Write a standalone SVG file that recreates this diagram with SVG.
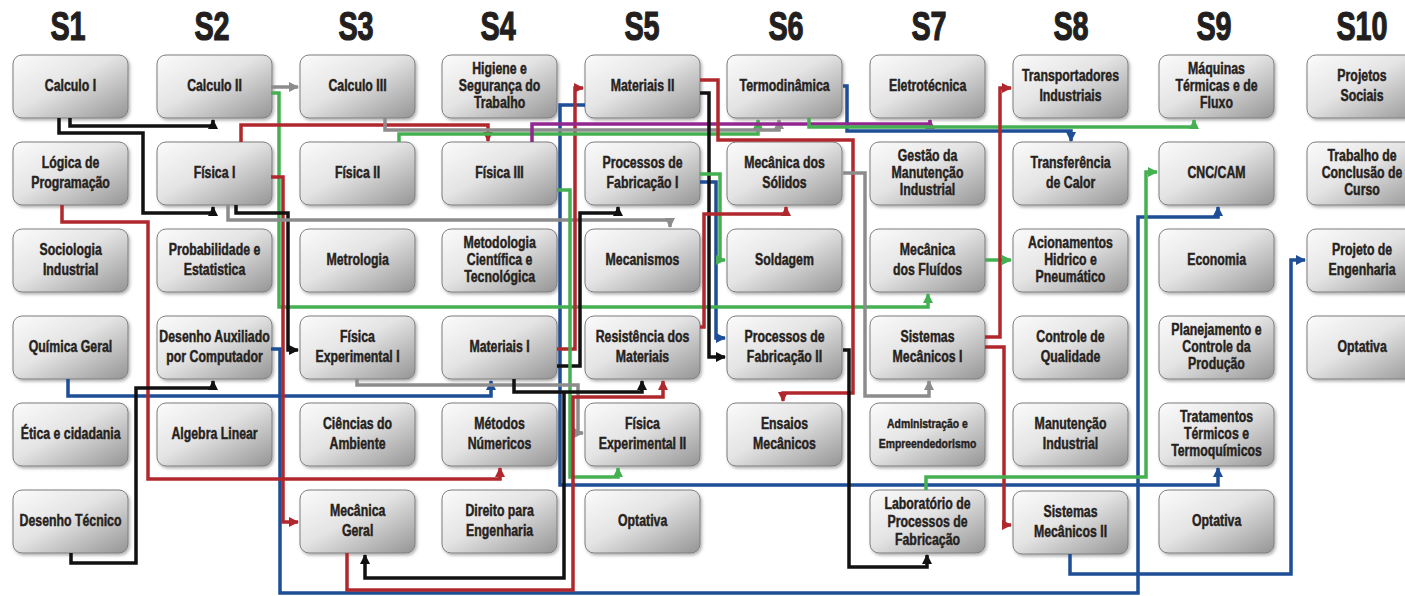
<svg xmlns="http://www.w3.org/2000/svg" width="1405" height="596" viewBox="0 0 1405 596">
<defs>
<linearGradient id="gbox" x1="0" y1="0" x2="1" y2="1">
<stop offset="0" stop-color="#fbfbfb"/>
<stop offset="0.45" stop-color="#e4e4e4"/>
<stop offset="1" stop-color="#959595"/>
</linearGradient>
<filter id="sh" x="-10%" y="-10%" width="125%" height="130%">
<feDropShadow dx="1.5" dy="2" stdDeviation="1.5" flood-color="#000" flood-opacity="0.3"/>
</filter>
<marker id="ak" viewBox="0 0 10 10" refX="9" refY="5" markerWidth="10" markerHeight="10" markerUnits="userSpaceOnUse" orient="auto"><path d="M0,0 L10,5 L0,10 z" fill="#111"/></marker>
<marker id="ar" viewBox="0 0 10 10" refX="9" refY="5" markerWidth="10" markerHeight="10" markerUnits="userSpaceOnUse" orient="auto"><path d="M0,0 L10,5 L0,10 z" fill="#b0282d"/></marker>
<marker id="ag" viewBox="0 0 10 10" refX="9" refY="5" markerWidth="10" markerHeight="10" markerUnits="userSpaceOnUse" orient="auto"><path d="M0,0 L10,5 L0,10 z" fill="#45b052"/></marker>
<marker id="ab" viewBox="0 0 10 10" refX="9" refY="5" markerWidth="10" markerHeight="10" markerUnits="userSpaceOnUse" orient="auto"><path d="M0,0 L10,5 L0,10 z" fill="#1d4e96"/></marker>
<marker id="ay" viewBox="0 0 10 10" refX="9" refY="5" markerWidth="10" markerHeight="10" markerUnits="userSpaceOnUse" orient="auto"><path d="M0,0 L10,5 L0,10 z" fill="#8c8c8c"/></marker>
<marker id="ap" viewBox="0 0 10 10" refX="9" refY="5" markerWidth="10" markerHeight="10" markerUnits="userSpaceOnUse" orient="auto"><path d="M0,0 L10,5 L0,10 z" fill="#92278f"/></marker>
</defs>
<style>
.hd{font-family:"Liberation Sans",Arial,sans-serif;font-weight:bold;font-size:40px;fill:#231f20;stroke:#231f20;stroke-width:1.2;text-anchor:middle;transform:scaleX(0.72);transform-box:fill-box;transform-origin:center}
.bx{fill:url(#gbox);stroke:#7d7d7d;stroke-width:1;filter:url(#sh)}
.lb{font-family:"Liberation Sans",Arial,sans-serif;font-weight:bold;font-size:16px;fill:#262220;stroke:#262220;stroke-width:0.45;text-anchor:middle;transform:scaleX(0.77);transform-box:fill-box;transform-origin:center}
.sm{font-size:13.5px}
.c{fill:none;stroke-width:3.5;stroke-linejoin:miter}
.k{stroke:#111;marker-end:url(#ak)}
.r{stroke:#b0282d;marker-end:url(#ar)}
.g{stroke:#45b052;marker-end:url(#ag)}
.b{stroke:#1d4e96;marker-end:url(#ab)}
.y{stroke:#8c8c8c;marker-end:url(#ay)}
.p{stroke:#92278f;marker-end:url(#ap)}
</style>
<rect width="1405" height="596" fill="#fff"/>
<g id="headers">
<text class="hd" x="68" y="40">S1</text>
<text class="hd" x="212" y="40">S2</text>
<text class="hd" x="356" y="40">S3</text>
<text class="hd" x="498" y="40">S4</text>
<text class="hd" x="642" y="40">S5</text>
<text class="hd" x="786" y="40">S6</text>
<text class="hd" x="929" y="40">S7</text>
<text class="hd" x="1071" y="40">S8</text>
<text class="hd" x="1214" y="40">S9</text>
<text class="hd" x="1362" y="40">S10</text>
</g>
<g id="nodes">
<g id="calculo1"><rect class="bx" x="13" y="55" width="115" height="63" rx="9"/><text class="lb" x="70.5" y="91.5">Calculo I</text></g>
<g id="logica"><rect class="bx" x="13" y="142" width="115" height="63" rx="9"/><text class="lb" x="70.5" y="168.5">Lógica de<tspan x="70.5" y="188.5">Programação</tspan></text></g>
<g id="sociologia"><rect class="bx" x="13" y="229" width="115" height="63" rx="9"/><text class="lb" x="70.5" y="255.5">Sociologia<tspan x="70.5" y="275.5">Industrial</tspan></text></g>
<g id="quimica"><rect class="bx" x="13" y="316" width="115" height="63" rx="9"/><text class="lb" x="70.5" y="352.5">Química Geral</text></g>
<g id="etica"><rect class="bx" x="13" y="403" width="115" height="63" rx="9"/><text class="lb" x="70.5" y="439.5">Ética e cidadania</text></g>
<g id="desenhotec"><rect class="bx" x="13" y="490" width="115" height="63" rx="9"/><text class="lb" x="70.5" y="526.5">Desenho Técnico</text></g>

<g id="calculo2"><rect class="bx" x="157" y="55" width="115" height="63" rx="9"/><text class="lb" x="214.5" y="91.5">Calculo II</text></g>
<g id="fisica1"><rect class="bx" x="157" y="142" width="115" height="63" rx="9"/><text class="lb" x="214.5" y="178.5">Física I</text></g>
<g id="probabilidade"><rect class="bx" x="157" y="229" width="115" height="63" rx="9"/><text class="lb" x="214.5" y="255.5">Probabilidade e<tspan x="214.5" y="275.5">Estatistica</tspan></text></g>
<g id="dac"><rect class="bx" x="157" y="316" width="115" height="63" rx="9"/><text class="lb" x="214.5" y="342.5">Desenho Auxiliado<tspan x="214.5" y="362.5">por Computador</tspan></text></g>
<g id="algebra"><rect class="bx" x="157" y="403" width="115" height="63" rx="9"/><text class="lb" x="214.5" y="439.5">Algebra Linear</text></g>

<g id="calculo3"><rect class="bx" x="300" y="55" width="115" height="63" rx="9"/><text class="lb" x="357.5" y="91.5">Calculo III</text></g>
<g id="fisica2"><rect class="bx" x="300" y="142" width="115" height="63" rx="9"/><text class="lb" x="357.5" y="178.5">Física II</text></g>
<g id="metrologia"><rect class="bx" x="300" y="229" width="115" height="63" rx="9"/><text class="lb" x="357.5" y="265.5">Metrologia</text></g>
<g id="fisexp1"><rect class="bx" x="300" y="316" width="115" height="63" rx="9"/><text class="lb" x="357.5" y="342.5">Física<tspan x="357.5" y="362.5">Experimental I</tspan></text></g>
<g id="ciencias"><rect class="bx" x="300" y="403" width="115" height="63" rx="9"/><text class="lb" x="357.5" y="429.5">Ciências do<tspan x="357.5" y="449.5">Ambiente</tspan></text></g>
<g id="mecgeral"><rect class="bx" x="300" y="490" width="115" height="63" rx="9"/><text class="lb" x="357.5" y="516.5">Mecânica<tspan x="357.5" y="536.5">Geral</tspan></text></g>

<g id="higiene"><rect class="bx" x="442" y="55" width="115" height="63" rx="9"/><text class="lb" x="499.5" y="74">Higiene e<tspan x="499.5" y="91">Segurança do</tspan><tspan x="499.5" y="108">Trabalho</tspan></text></g>
<g id="fisica3"><rect class="bx" x="442" y="142" width="115" height="63" rx="9"/><text class="lb" x="499.5" y="178.5">Física III</text></g>
<g id="metodologia"><rect class="bx" x="442" y="229" width="115" height="63" rx="9"/><text class="lb" x="499.5" y="248">Metodologia<tspan x="499.5" y="265">Científica e</tspan><tspan x="499.5" y="282">Tecnológica</tspan></text></g>
<g id="materiais1"><rect class="bx" x="442" y="316" width="115" height="63" rx="9"/><text class="lb" x="499.5" y="352.5">Materiais I</text></g>
<g id="metnum"><rect class="bx" x="442" y="403" width="115" height="63" rx="9"/><text class="lb" x="499.5" y="429.5">Métodos<tspan x="499.5" y="449.5">Númericos</tspan></text></g>
<g id="direito"><rect class="bx" x="442" y="490" width="115" height="63" rx="9"/><text class="lb" x="499.5" y="516.5">Direito para<tspan x="499.5" y="536.5">Engenharia</tspan></text></g>

<g id="materiais2"><rect class="bx" x="585" y="55" width="115" height="63" rx="9"/><text class="lb" x="642.5" y="91.5">Materiais II</text></g>
<g id="procfab1"><rect class="bx" x="585" y="142" width="115" height="63" rx="9"/><text class="lb" x="642.5" y="168.5">Processos de<tspan x="642.5" y="188.5">Fabricação I</tspan></text></g>
<g id="mecanismos"><rect class="bx" x="585" y="229" width="115" height="63" rx="9"/><text class="lb" x="642.5" y="265.5">Mecanismos</text></g>
<g id="resistencia"><rect class="bx" x="585" y="316" width="115" height="63" rx="9"/><text class="lb" x="642.5" y="342.5">Resistência dos<tspan x="642.5" y="362.5">Materiais</tspan></text></g>
<g id="fisexp2"><rect class="bx" x="585" y="403" width="115" height="63" rx="9"/><text class="lb" x="642.5" y="429.5">Física<tspan x="642.5" y="449.5">Experimental II</tspan></text></g>
<g id="optativa5"><rect class="bx" x="585" y="490" width="115" height="63" rx="9"/><text class="lb" x="642.5" y="526.5">Optativa</text></g>

<g id="termo"><rect class="bx" x="727" y="55" width="115" height="63" rx="9"/><text class="lb" x="784.5" y="91.5">Termodinâmica</text></g>
<g id="mecsolidos"><rect class="bx" x="727" y="142" width="115" height="63" rx="9"/><text class="lb" x="784.5" y="168.5">Mecânica dos<tspan x="784.5" y="188.5">Sólidos</tspan></text></g>
<g id="soldagem"><rect class="bx" x="727" y="229" width="115" height="63" rx="9"/><text class="lb" x="784.5" y="265.5">Soldagem</text></g>
<g id="procfab2"><rect class="bx" x="727" y="316" width="115" height="63" rx="9"/><text class="lb" x="784.5" y="342.5">Processos de<tspan x="784.5" y="362.5">Fabricação II</tspan></text></g>
<g id="ensaios"><rect class="bx" x="727" y="403" width="115" height="63" rx="9"/><text class="lb" x="784.5" y="429.5">Ensaios<tspan x="784.5" y="449.5">Mecânicos</tspan></text></g>

<g id="eletrotecnica"><rect class="bx" x="870" y="55" width="115" height="63" rx="9"/><text class="lb" x="927.5" y="91.5">Eletrotécnica</text></g>
<g id="gestao"><rect class="bx" x="870" y="142" width="115" height="63" rx="9"/><text class="lb" x="927.5" y="161">Gestão da<tspan x="927.5" y="178">Manutenção</tspan><tspan x="927.5" y="195">Industrial</tspan></text></g>
<g id="mecfluidos"><rect class="bx" x="870" y="229" width="115" height="63" rx="9"/><text class="lb" x="927.5" y="255.5">Mecânica<tspan x="927.5" y="275.5">dos Fluídos</tspan></text></g>
<g id="sistmec1"><rect class="bx" x="870" y="316" width="115" height="63" rx="9"/><text class="lb" x="927.5" y="342.5">Sistemas<tspan x="927.5" y="362.5">Mecânicos I</tspan></text></g>
<g id="admin"><rect class="bx" x="870" y="403" width="115" height="63" rx="9"/><text class="lb sm" x="927.5" y="428.5">Administração e<tspan x="927.5" y="448.5">Empreendedorismo</tspan></text></g>
<g id="labproc"><rect class="bx" x="870" y="490" width="115" height="63" rx="9"/><text class="lb" x="927.5" y="509.5">Laboratório de<tspan x="927.5" y="527.5">Processos de</tspan><tspan x="927.5" y="545.5">Fabricação</tspan></text></g>

<g id="transportadores"><rect class="bx" x="1013" y="55" width="115" height="63" rx="9"/><text class="lb" x="1070.5" y="81.5">Transportadores<tspan x="1070.5" y="101.5">Industriais</tspan></text></g>
<g id="transfcalor"><rect class="bx" x="1013" y="142" width="115" height="63" rx="9"/><text class="lb" x="1070.5" y="168.5">Transferência<tspan x="1070.5" y="188.5">de Calor</tspan></text></g>
<g id="acionamentos"><rect class="bx" x="1013" y="229" width="115" height="63" rx="9"/><text class="lb" x="1070.5" y="248">Acionamentos<tspan x="1070.5" y="265">Hidrico e</tspan><tspan x="1070.5" y="282">Pneumático</tspan></text></g>
<g id="controle"><rect class="bx" x="1013" y="316" width="115" height="63" rx="9"/><text class="lb" x="1070.5" y="342.5">Controle de<tspan x="1070.5" y="362.5">Qualidade</tspan></text></g>
<g id="manutencao"><rect class="bx" x="1013" y="403" width="115" height="63" rx="9"/><text class="lb" x="1070.5" y="429.5">Manutenção<tspan x="1070.5" y="449.5">Industrial</tspan></text></g>
<g id="sistmec2"><rect class="bx" x="1013" y="491" width="115" height="63" rx="9"/><text class="lb" x="1070.5" y="517.5">Sistemas<tspan x="1070.5" y="537.5">Mecânicos II</tspan></text></g>

<g id="maquinas"><rect class="bx" x="1159" y="55" width="115" height="63" rx="9"/><text class="lb" x="1216.5" y="74">Máquinas<tspan x="1216.5" y="91">Térmicas e de</tspan><tspan x="1216.5" y="108">Fluxo</tspan></text></g>
<g id="cnccam"><rect class="bx" x="1159" y="142" width="115" height="63" rx="9"/><text class="lb" x="1216.5" y="178.5">CNC/CAM</text></g>
<g id="economia"><rect class="bx" x="1159" y="229" width="115" height="63" rx="9"/><text class="lb" x="1216.5" y="265.5">Economia</text></g>
<g id="planejamento"><rect class="bx" x="1159" y="316" width="115" height="63" rx="9"/><text class="lb" x="1216.5" y="335">Planejamento e<tspan x="1216.5" y="352">Controle da</tspan><tspan x="1216.5" y="369">Produção</tspan></text></g>
<g id="tratamentos"><rect class="bx" x="1159" y="403" width="115" height="63" rx="9"/><text class="lb" x="1216.5" y="422">Tratamentos<tspan x="1216.5" y="439">Térmicos e</tspan><tspan x="1216.5" y="456">Termoquímicos</tspan></text></g>
<g id="optativa9"><rect class="bx" x="1159" y="490" width="115" height="63" rx="9"/><text class="lb" x="1216.5" y="526.5">Optativa</text></g>

<g id="projsociais"><rect class="bx" x="1307" y="55" width="115" height="63" rx="9"/><text class="lb" x="1362" y="81.5">Projetos<tspan x="1362" y="101.5">Sociais</tspan></text></g>
<g id="tcc"><rect class="bx" x="1307" y="142" width="115" height="63" rx="9"/><text class="lb" x="1362" y="161">Trabalho de<tspan x="1362" y="178">Conclusão de</tspan><tspan x="1362" y="195">Curso</tspan></text></g>
<g id="projeng"><rect class="bx" x="1307" y="229" width="115" height="63" rx="9"/><text class="lb" x="1362" y="255.5">Projeto de<tspan x="1362" y="275.5">Engenharia</tspan></text></g>
<g id="optativa10"><rect class="bx" x="1307" y="316" width="115" height="63" rx="9"/><text class="lb" x="1362" y="352.5">Optativa</text></g>
</g>
<g id="connectors">
<path class="c b" d="M271,349 H280 V593 H1138 V217 H1218 V207"/>
<path class="c b" d="M585,105 H560 V485 H1218 V468"/>
<path class="c b" d="M68,379 V396 H491 V381"/>
<path class="c b" d="M1070,554 V574 H1291 V260 H1305"/>
<path class="c b" d="M843,86 H847 V131 H1071 V141"/>
<path class="c b" d="M700,182 H716 V338 H725"/>
<path class="c k" d="M70,118 V126 H213 V120"/>
<path class="c k" d="M59,118 V133 H143 V213 H213 V207"/>
<path class="c y" d="M271,87 H298"/>
<path class="c g" d="M271,93 H279 V307 H928 V294"/>
<path class="c r" d="M241,142 V125 H488 V141"/>
<path class="c r" d="M271,177 H283 V522 H298"/>
<path class="c k" d="M236,205 V213 H288 V350 H298"/>
<path class="c y" d="M228,205 V220 H670 V227"/>
<path class="c r" d="M62,205 V222 H148 V479 H500 V468"/>
<path class="c k" d="M71,553 V563 H136 V388 H213 V381"/>
<path class="c r" d="M557,349 H575 V88 H583"/>
<path class="c k" d="M557,366 H580 V213 H618 V207"/>
<path class="c g" d="M557,190 H570 V477 H618 V468"/>
<path class="c y" d="M357,379 V385 H578 V433 H583"/>
<path class="c k" d="M514,379 V392 H642 V381"/>
<path class="c k" d="M564,392 V578 H365 V555"/>
<path class="c r" d="M347,553 V590 H573 V397 H663 V381"/>
<path class="c g" d="M399,142 V134 H758 V120"/>
<path class="c y" d="M385,118 V130 H779 V120"/>
<path class="c p" d="M532,142 V124 H930 V120"/>
<path class="c r" d="M700,80 H718 V140 H853 V393 H783 V401"/>
<path class="c k" d="M700,93 H709 V357 H725"/>
<path class="c g" d="M700,174 H720 V260 H725"/>
<path class="c r" d="M700,327 H704 V214 H786 V207"/>
<path class="c g" d="M809,118 V127 H1194 V120"/>
<path class="c y" d="M843,173 H865 V396 H929 V381"/>
<path class="c k" d="M843,350 H849 V567 H927 V555"/>
<path class="c g" d="M985,260 H1011"/>
<path class="c r" d="M985,337 H1000 V88 H1011"/>
<path class="c r" d="M985,347 H1004 V525 H1011"/>
<path class="c g" d="M926,490 V477 H1146 V172 H1157"/>
</g>
</svg>
